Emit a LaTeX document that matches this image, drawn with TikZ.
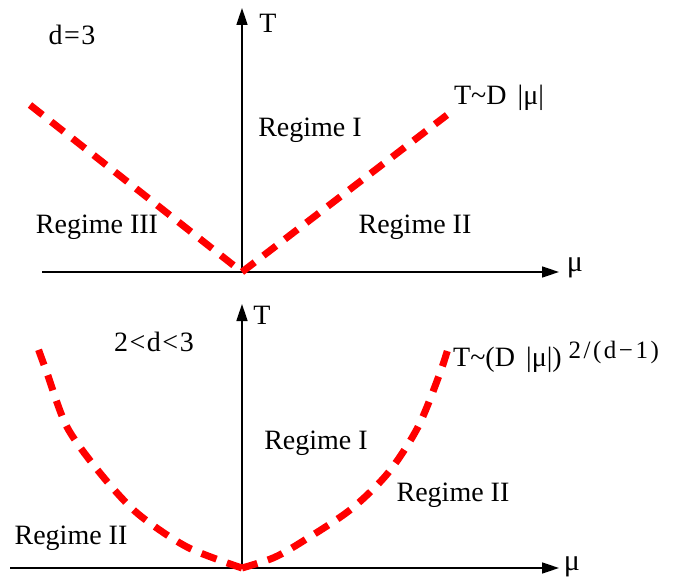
\documentclass[tikz,border=0pt]{standalone}
\usepackage{fontspec}
\setmainfont{Liberation Serif}
\usetikzlibrary{arrows.meta}
\begin{document}
\begin{tikzpicture}[x=1pt,y=-1pt,
  axis/.style={line width=1.6pt,-{Triangle[length=17pt,width=11pt]}},
  crit/.style={red,line width=7pt,dash pattern=on 16pt off 11pt},
  lbl/.style={inner sep=0pt,font=\fontsize{28}{30}\selectfont},
  sym/.style={inner sep=0pt,font=\fontsize{30}{32}\selectfont}]
\useasboundingbox (0,0) rectangle (678,583);
% ---------- top panel ----------
\coordinate (O1) at (242,272);
\coordinate (X1s) at (42,272);
\coordinate (X1e) at (559,272);
\coordinate (Y1e) at (242,8);
\coordinate (L1) at (30,105);
\coordinate (R1) at (447,115);
\draw[axis] (X1s) -- (X1e);
\draw[axis] (O1) -- (Y1e);
\draw[crit] (L1) -- (O1);
\draw[crit] (O1) -- (R1);
\node[sym] (mu1) at (575,268) {μ};
\node[lbl] (T1) at (268,23) {T};
\node[lbl] (d1) at (72,35) {d\kern1.5pt=\kern1.5pt3};
\node[lbl] (law1) at (499,98) {T\textasciitilde D\hspace{0.4em}|μ|};
\node[lbl] (r1a) at (310,130) {Regime I};
\node[lbl] (r1b) at (97,227) {Regime III};
\node[lbl] (r1c) at (415,227) {Regime II};
% ---------- bottom panel ----------
\coordinate (O2) at (242,568);
\coordinate (X2s) at (10,568);
\coordinate (X2e) at (559,568);
\coordinate (Y2e) at (242,304);
\draw[axis] (X2s) -- (X2e);
\draw[axis] (O2) -- (Y2e);
\draw[crit] plot[smooth] coordinates {(242,568) (187,547) (137,513) (100,473) (67,427) (47,373) (35,340)};
\draw[crit] plot[smooth] coordinates {(242,568) (273,558) (300,543) (350,510) (388,473) (418,427) (440,373) (450,342)};
\node[sym] (mu2) at (572,567) {μ};
\node[lbl] (T2) at (262,315) {T};
\node[lbl] (d2) at (154,342) {2\kern1.5pt<\kern1.5pt d\kern1.5pt<\kern1.5pt3};
\node[lbl,anchor=west] (law2) at (453,357) {T\textasciitilde(D\hspace{0.4em}|μ|)\hspace{0.25em}\raisebox{0.3em}{\fontsize{25}{27}\selectfont 2\kern2.5pt/\kern2.5pt(\kern2.5pt d\kern2.5pt−\kern2.5pt1\kern2.5pt)}};
\node[lbl] (r2a) at (316,443) {Regime I};
\node[lbl] (r2b) at (453,495) {Regime II};
\node[lbl] (r2c) at (71,538) {Regime II};
\end{tikzpicture}
\end{document}
